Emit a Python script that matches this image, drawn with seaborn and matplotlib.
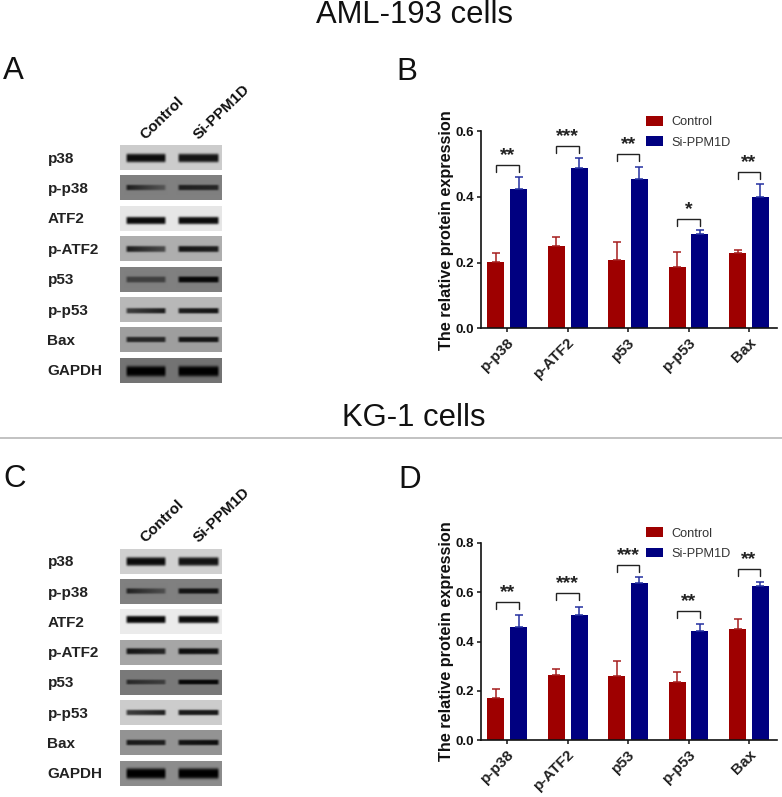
import numpy as np
import pandas as pd
import matplotlib
matplotlib.use("Agg")
import matplotlib.pyplot as plt
import seaborn as sns

# Bar data
proteins = ['p-p38', 'p-ATF2', 'p53', 'p-p53', 'Bax']
groups = ['Control', 'Si-PPM1D']

b_control = [0.203, 0.250, 0.208, 0.188, 0.228]
b_control_top = [0.230, 0.278, 0.262, 0.231, 0.239]
b_si = [0.424, 0.488, 0.455, 0.286, 0.401]
b_si_top = [0.460, 0.520, 0.492, 0.299, 0.441]
b_stars = ['**', '***', '**', '*', '**']
b_bracket = [0.498, 0.556, 0.532, 0.333, 0.477]

d_control = [0.170, 0.266, 0.259, 0.238, 0.452]
d_control_top = [0.209, 0.290, 0.320, 0.275, 0.490]
d_si = [0.457, 0.506, 0.636, 0.444, 0.623]
d_si_top = [0.509, 0.538, 0.661, 0.470, 0.640]
d_stars = ['**', '***', '***', '**', '**']
d_bracket = [0.560, 0.595, 0.710, 0.525, 0.695]

# Blot data, grey levels 0-1 (left and right end of each band)
blot_names = ['p38', 'p-p38', 'ATF2', 'p-ATF2', 'p53', 'p-p53', 'Bax', 'GAPDH']

a_bg = [0.80, 0.50, 0.90, 0.68, 0.50, 0.72, 0.62, 0.45]
a_ctrl_l = [0.05, 0.10, 0.05, 0.10, 0.25, 0.25, 0.15, 0.00]
a_ctrl_r = [0.05, 0.35, 0.05, 0.30, 0.25, 0.10, 0.15, 0.00]
a_si_l = [0.08, 0.12, 0.05, 0.08, 0.03, 0.12, 0.08, 0.00]
a_si_r = [0.08, 0.15, 0.05, 0.12, 0.03, 0.08, 0.08, 0.00]
a_thick = [7.0, 4.5, 6.0, 5.0, 5.0, 4.5, 4.5, 8.5]
a_pos = [0.52, 0.50, 0.58, 0.52, 0.50, 0.55, 0.50, 0.53]

c_bg = [0.82, 0.50, 0.92, 0.65, 0.48, 0.80, 0.58, 0.55]
c_ctrl_l = [0.05, 0.12, 0.03, 0.08, 0.15, 0.25, 0.10, 0.00]
c_ctrl_r = [0.05, 0.32, 0.03, 0.15, 0.25, 0.12, 0.12, 0.00]
c_si_l = [0.08, 0.08, 0.05, 0.05, 0.03, 0.10, 0.08, 0.00]
c_si_r = [0.08, 0.08, 0.05, 0.08, 0.03, 0.10, 0.05, 0.00]
c_thick = [7.0, 4.5, 6.0, 5.0, 4.0, 4.5, 4.5, 8.5]
c_pos = [0.50, 0.48, 0.42, 0.45, 0.48, 0.50, 0.50, 0.50]

RED = '#9E0000'
BLUE = '#000080'
ERR_RED = '#A51E1E'
ERR_BLUE = '#2430A0'

W, H = 782, 797

sns.set_theme(style='ticks')
plt.rcParams['font.family'] = ['Liberation Sans', 'DejaVu Sans']

fig = plt.figure(figsize=(W / 100, H / 100), dpi=100)

# Overlay in pixel coordinates, for the blots and the loose text
over = fig.add_axes([0, 0, 1, 1])
over.set_xlim(0, W)
over.set_ylim(H, 0)
over.axis('off')


def blot_image(bg, ctrl_l, ctrl_r, si_l, si_r, thick, pos):
    h, w = 50, 204
    yy = (np.arange(h) + 0.5) / 2
    xx = (np.arange(w) + 0.5) / w
    img = np.full((h, w), bg, dtype=float)
    lanes = [(0.05, 0.46, ctrl_l, ctrl_r), (0.56, 0.98, si_l, si_r)]
    for x0, x1, g0, g1 in lanes:
        t = np.clip((xx - x0) / (x1 - x0), 0, 1)
        level = g0 + (g1 - g0) * t
        edge = np.clip((xx - x0) / 0.03, 0, 1) * np.clip((x1 - xx) / 0.03, 0, 1)
        for i, y in enumerate(yy):
            prof = np.exp(-((y - 25 * pos) / (thick * 0.62)) ** 4) * edge
            img[i] = img[i] * (1 - prof) + level * prof
    return img


def draw_blots(top, pitch, bg, ctrl_l, ctrl_r, si_l, si_r, thick, pos):
    for i, name in enumerate(blot_names):
        y0 = top + pitch * i
        img = blot_image(bg[i], ctrl_l[i], ctrl_r[i], si_l[i], si_r[i], thick[i], pos[i])
        over.imshow(img, cmap='gray', vmin=0, vmax=1, aspect='auto',
                    extent=(120, 222, y0 + 25, y0), interpolation='bilinear')
        over.text(47.5, y0 + 13.5, name, fontsize=11, fontweight='bold',
                  color='#222222', ha='left', va='center')
    over.set_xlim(0, W)
    over.set_ylim(H, 0)


def draw_chart(pos, ymax, yticks, control, control_top, si, si_top, stars, bracket):
    left, top, right, bottom = pos
    ax = fig.add_axes([left / W, 1 - bottom / H, (right - left) / W, (bottom - top) / H])
    df = pd.DataFrame({
        'protein': proteins * 2,
        'group': [groups[0]] * 5 + [groups[1]] * 5,
        'value': control + si,
    })
    sns.barplot(data=df, x='protein', y='value', hue='group', order=proteins,
                hue_order=groups, palette=[RED, BLUE], saturation=1, width=0.755,
                gap=0.26, linewidth=0, errorbar=None, ax=ax)

    # Upper error bars only
    centers = []
    tops = [(control, control_top, ERR_RED), (si, si_top, ERR_BLUE)]
    for cont, (vals, upper, col) in zip(ax.containers, tops):
        xs = [p.get_x() + p.get_width() / 2 for p in cont.patches]
        centers.append(xs)
        up = np.array(upper) - np.array(vals)
        ax.errorbar(xs, vals, yerr=[np.zeros(5), up], fmt='none', ecolor=col,
                    elinewidth=1.1, capsize=2.6, capthick=1.1)

    # Significance brackets
    drop = ymax * 0.035
    for i in range(5):
        xa, xb = centers[0][i], centers[1][i]
        yb = bracket[i]
        ax.plot([xa, xa, xb, xb], [yb - drop, yb, yb, yb - drop], color='#222222',
                lw=1.0, solid_joinstyle='miter')
        ax.text((xa + xb) / 2, yb + ymax * 0.005, stars[i], fontsize=14, fontweight='bold',
                color='#222222', ha='center', va='bottom')

    ax.set_xlim(-0.435, 4.465)
    ax.set_ylim(0, ymax)
    ax.set_yticks(yticks)
    ax.set_yticklabels(['%.1f' % v for v in yticks], fontsize=9.5, fontweight='bold',
                       color='#111111')
    ax.set_xticks(range(5))
    ax.set_xticklabels(proteins, fontsize=11, fontweight='bold', color='#222222',
                       rotation=45, ha='right', rotation_mode='anchor')
    ax.set_xlabel('')
    ax.set_ylabel('The relative protein expression', fontsize=11.7, fontweight='bold',
                  color='#111111', labelpad=1)
    ax.tick_params(axis='both', length=3, width=1.1, color='#111111', pad=2)
    for side in ['left', 'bottom']:
        ax.spines[side].set_linewidth(1.2)
        ax.spines[side].set_color('#111111')
    sns.despine(ax=ax)
    ax.patch.set_alpha(0)

    sns.move_legend(ax, 'upper left', bbox_to_anchor=(0.556, 1.078), title=None,
                    frameon=False, fontsize=9.2, handlelength=1.4, handleheight=0.8,
                    handletextpad=0.65, labelspacing=0.62, borderpad=0, borderaxespad=0,
                    labelcolor='#333333')
    return ax


draw_blots(145, 30.4, a_bg, a_ctrl_l, a_ctrl_r, a_si_l, a_si_r, a_thick, a_pos)
draw_blots(548.7, 30.3, c_bg, c_ctrl_l, c_ctrl_r, c_si_l, c_si_r, c_thick, c_pos)

draw_chart((481, 131.3, 777, 328.3), 0.6, [0.0, 0.2, 0.4, 0.6],
           b_control, b_control_top, b_si, b_si_top, b_stars, b_bracket)
draw_chart((481, 542.7, 777, 740.3), 0.8, [0.0, 0.2, 0.4, 0.6, 0.8],
           d_control, d_control_top, d_si, d_si_top, d_stars, d_bracket)

# Titles, divider, panel letters
over.text(414, 15, 'AML-193 cells', fontsize=22.3, color='#111111', ha='center', va='center')
over.text(414, 418, 'KG-1 cells', fontsize=22.3, color='#111111', ha='center', va='center')
over.plot([0, W], [437.5, 437.5], color='#BDBDBD', lw=1.3)
for letter, x, y in [('A', 3, 71), ('B', 396, 72), ('C', 3, 479), ('D', 398, 480)]:
    over.text(x, y, letter, fontsize=22.5, color='#111111', ha='left', va='center')

# Lane headers
for x, y, label in [(143, 137, 'Control'), (196, 137, 'Si-PPM1D'),
                    (143, 540, 'Control'), (196, 540, 'Si-PPM1D')]:
    over.text(x, y, label, fontsize=11, fontweight='bold', color='#111111', rotation=44,
              rotation_mode='anchor', ha='left', va='center')

fig.savefig('out.png', dpi=100)
